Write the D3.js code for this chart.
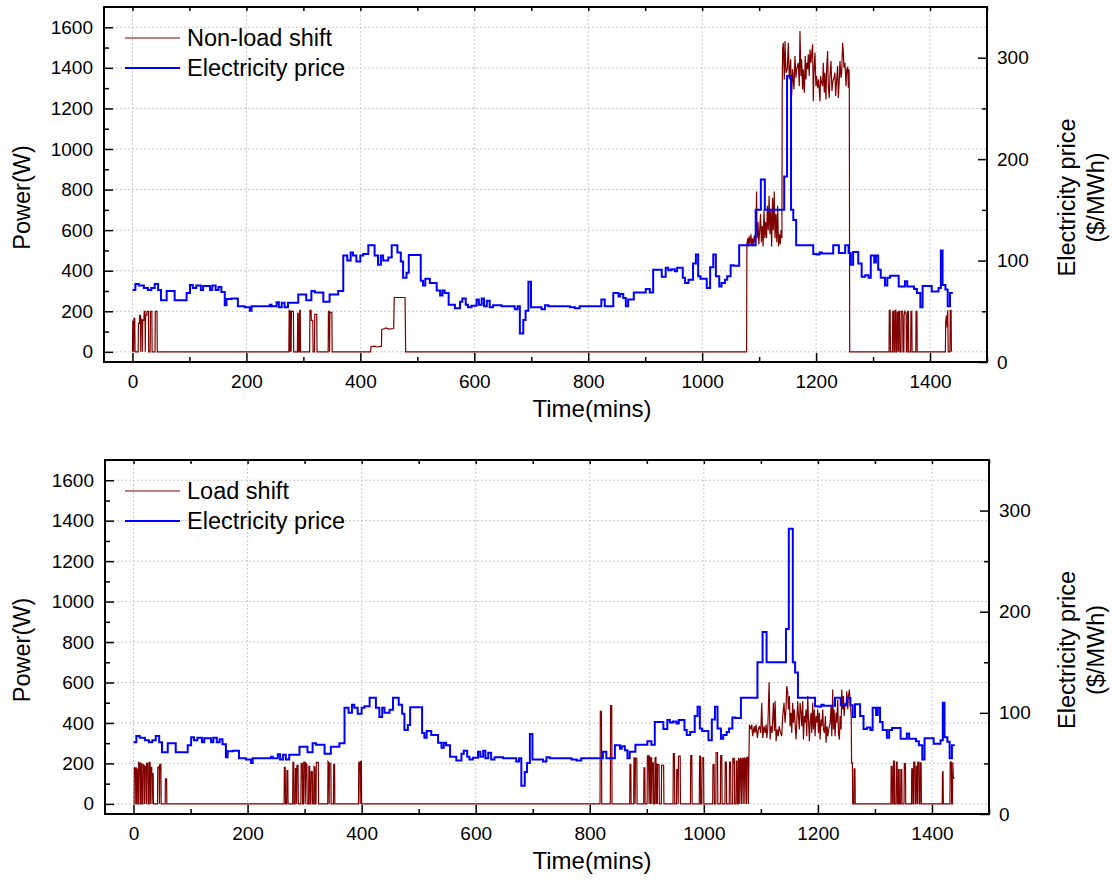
<!DOCTYPE html>
<html>
<head>
<meta charset="utf-8">
<script src="https://cdn.jsdelivr.net/npm/d3@7"></script>
<style>
  body { margin: 0; background: #fff; }
  svg { display: block; font-family: "Liberation Sans", Arial, sans-serif; }
</style>
</head>
<body>
<svg id="chart" width="1113" height="880"></svg>
<script>
const timeTicks = [0, 200, 400, 600, 800, 1000, 1200, 1400];
const timeMinor = [100, 300, 500, 700, 900, 1100, 1300, 1500];
const powerTicks = [0, 200, 400, 600, 800, 1000, 1200, 1400, 1600];
const powerMinor = [100, 300, 500, 700, 900, 1100, 1300, 1500];
const priceTicks = [0, 100, 200, 300];
const priceMinor = [50, 150, 250];

// electricity price, $/MWh, [minute, price] steps
const priceSteps = [
  [0,71],[5,77],[11,75.5],[20,73],[27,71],[33,73],[39,77],[45,71],[50,61],[60,70],[74,61],[95,68],
  [101,76],[106,73],[112,75.5],[120,71],[124,75],[136,71],[140,75.5],[146,71],[151,74],[156,69],
  [162,56],[165,62],[174,62.5],[185,55],[197,54],[206,50.5],[209,55],[226,55],[241,56.5],[244,55],
  [253,59],[257,54],[262,58.5],[267,54],[273,58.5],[291,66.5],[305,61],[314,70],[320,68.5],[335,59.5],
  [346,66.5],[361,70],[370,105],[377,100],[383,108],[387,105],[393,99],[400,105],[405,106.5],[414,115],
  [425,105],[431,96],[436,105],[440,100],[449,103],[455,115],[465,108],[471,99],[475,83],[481,88],
  [485,105.5],[506,80],[510,75.5],[514,82],[522,78],[534,70.5],[540,65.5],[544,70.5],[548,68],
  [555,56.5],[566,53],[575,59.5],[579,62.5],[585,56.5],[589,54],[595,55.5],[604,61.5],[608,56.5],
  [613,62.5],[617,55],[622,60.5],[627,54],[633,56],[648,55],[671,52],[676,55],[680,28],[686,41.5],
  [690,50.5],[695,79],[699.5,54],[718,52],[724,56],[730,55],[768,54],[777,53],[785,55],[823,61.5],
  [829,55],[844,68],[853,64.5],[856,67],[861.5,63],[866,55],[870,61.5],[880,68.5],[901,72],[908,68.5],
  [914,91],[929,84],[936,93],[940.5,90.5],[946,91.5],[952,89.5],[956,93],[966,83],[970,78],[976,81],
  [984,97],[989,106],[993,84.5],[997,82],[1008,73],[1014,93.5],[1019.5,106],[1024,84.5],[1030,74.5],
  [1034,78],[1040,81],[1044,84.5],[1050,95.5],[1055,95],[1065,115],[1094,150],[1103,180],[1110,150],
  [1144,183],[1149,282],[1156,150],[1160,140],[1165,115],[1195,106.5],[1201,106],[1206,108],[1210,107],
  [1230,115],[1240,107.5],[1251,115],[1257,107.5],[1261,96],[1265,108.5],[1274,97],[1280,84],
  [1286,85.5],[1292,83],[1296,105],[1302,98],[1305,105],[1309,91],[1313.5,83],[1321,75.5],[1325,83],
  [1330,85],[1345,74.5],[1356,79.5],[1360,74.5],[1372,72],[1377,68],[1383,54],[1387,75],[1397,75],
  [1403,69.5],[1415,73],[1419,110],[1422,76],[1427,71.5],[1431,55],[1435,68],[1440,68]
];

// power without load shifting, W, [minute, watts]
const nonLoadShift = [
  [0,0],[0.5,150],[1.5,150],[2,0],[2.5,165],[4,165],[4.5,0],[10,0],[10.5,140],[12,140],[12.5,180],
  [14,180],[14.5,0],[15,160],[17,160],[17.5,0],[18,155],[20,155],[20.5,200],[22,200],[22.5,0],[23,180],
  [25,180],[25.5,200],[28,200],[28.5,0],[31,0],[31.5,200],[34,200],[34.5,0],[39.5,0],[40,200],[43,200],
  [43.5,0],
  [274.5,0],[275,205],[276,205],[276.5,0],[277,200],[278,200],[278.5,0],[279,200],[282.5,200],[283,0],
  [289.5,0],[290,190],[291,190],[291.5,0],[293,0],[293.5,205],[294.5,205],[295,0],[311,0],[311.5,205],
  [313.5,205],[314,155],[316.5,155],[317,0],[319.5,0],[320,185],[323.5,185],[324,0],[343.5,0],
  [344,200],[345.5,200],[346,0],[346.5,195],[350,195],[350.5,0],
  [418,0],[418.5,25],[425,28],[430,24],[437,28],[437.5,110],[445,118],[450,112],[458.5,115],
  [459.5,268],[478.5,268],[479.5,0],
  [1078,0],[1078.5,530],[1080,560],[1081,520],[1082.5,570],[1084,530],[1085.5,580],[1087,525],
  [1088.5,560],[1090,520],[1091.5,575],[1093,540],[1094.5,600],[1095.5,790],[1096.5,560],[1098,640],
  [1099.5,530],[1101,600],[1102.5,680],[1104,540],[1105.5,620],[1107,520],[1108.5,700],[1110,560],
  [1111.5,640],[1113,560],[1114.5,720],[1116,600],[1117.5,770],[1119,580],[1120.5,700],[1122,520],
  [1123.5,760],[1125,600],[1126.5,790],[1128,560],[1129.5,680],[1131,540],[1132.5,720],[1134,520],
  [1135.5,580],[1137,530],[1138.5,600],[1140,560],
  [1140.5,1300],[1141.3,1491],[1142.4,1524],[1144.2,1343],[1145.4,1532],[1147.1,1376],[1149.4,1393],
  [1151.2,1524],[1152.9,1343],[1155.3,1442],[1157,1261],[1158.8,1393],[1161.1,1294],[1162.9,1458],
  [1164.6,1351],[1165.8,1393],[1168.7,1425],[1170.5,1310],[1171.7,1582],[1173.4,1360],[1174.6,1442],
  [1176.3,1294],[1177.5,1393],[1179.3,1277],[1181,1458],[1182.2,1343],[1183.4,1425],[1185.1,1393],
  [1186.3,1467],[1188,1360],[1189.2,1491],[1191,1425],[1192.1,1467],[1193.9,1516],[1195.1,1236],
  [1196.2,1376],[1198,1475],[1199.7,1310],[1200.9,1360],[1202.7,1302],[1204.4,1343],[1206.8,1236],
  [1207.9,1360],[1209.7,1327],[1211.4,1310],[1212.6,1425],[1214.4,1277],[1215.5,1376],[1217.3,1244],
  [1218.5,1393],[1220.2,1483],[1221.4,1310],[1223.2,1252],[1224.3,1360],[1226.1,1434],[1227.9,1286],
  [1229,1327],[1231.4,1351],[1233.1,1376],[1234.3,1261],[1236.1,1343],[1237.8,1409],[1239,1252],
  [1240.8,1343],[1241.9,1434],[1243.7,1351],[1244.9,1376],[1246.6,1524],[1247.8,1475],[1249,1401],
  [1250.7,1425],[1252.5,1310],[1253.7,1393],[1255.4,1401],[1256.6,1302],[1257.8,1393],[1258.3,1300],
  [1259,0],
  [1328,0],[1328.5,205],[1330,205],[1330.5,0],[1334,0],[1334.5,200],[1336,200],[1336.5,0],[1338,0],
  [1338.5,205],[1340,205],[1340.5,0],[1342,0],[1342.5,195],[1344,195],[1344.5,0],[1345,200],
  [1346.5,200],[1347,0],[1349,0],[1349.5,200],[1352,200],[1352.5,0],[1354,0],[1354.5,180],[1356,200],
  [1358,190],[1358.5,0],[1360,0],[1360.5,200],[1362,200],[1362.5,0],[1366,0],[1366.5,200],[1368,200],
  [1368.5,0],[1375,0],[1375.5,200],[1377,200],[1377.5,0],[1427,0],[1427.5,150],[1429,180],[1430,120],
  [1431,205],[1432,0],[1435,0],[1435.5,205],[1437,205],[1437.5,0]
];

// power with load shifting, W, [minute, watts]
const loadShift = [
  [0,0],[1,0],[1.5,180],[3.5,178],[4,0],[5,0],[5.5,175],[7,170],[7.5,0],[8.5,0],[9,205],[11,200],
  [11.5,0],[12.5,0],[13,200],[14.5,195],[15,0],[16.5,0],[17,195],[19,190],[19.5,0],[20,185],[22,185],
  [22.5,0],[23,200],[25,200],[25.5,0],[27,0],[27.5,205],[29,205],[29.5,0],[30,180],[32,180],[32.5,0],
  [33,150],[34.5,150],[35,0],[42,0],[42.5,180],[45,185],[45.5,0],[46,195],[48,195],[48.5,0],[55.5,0],
  [56,124],[58,124],[58.5,0],
  [264,0],[264.5,180],[266,180],[266.5,0],[268.5,0],[269,165],[270.5,165],[271,0],[279,0],[279.5,205],
  [281,205],[281.5,0],[283.5,0],[284,175],[285.5,175],[286,0],[286.5,190],[288.5,190],[289,0],
  [293.5,0],[294,200],[296,200],[296.5,0],[298,0],[298.5,206],[300.5,206],[301,0],[302.5,200],
  [304,195],[304.5,0],[307,0],[307.5,185],[309,185],[309.5,0],[311,0],[311.5,160],[313.5,160],[314,0],
  [316,0],[316.5,185],[318,180],[318.5,0],[320,0],[320.5,205],[324,205],[324.5,0],[340.5,0],[341,210],
  [342.5,205],[343,0],[343.5,200],[346,200],[346.5,0],[350.5,0],[351,195],[352.5,195],[353,0],
  [394.5,0],[395,205],[397,205],[397.5,0],[398,210],[399.5,210],[400,0],
  [818,0],[818.5,458],[820.5,458],[821,0],[836,0],[836.5,486],[838.5,486],[839,0],[870,0],[870.5,194],
  [872,194],[872.5,0],[877,0],[877.5,228],[879,228],[879.5,0],[880,225],[882.5,225],[883,0],[894.5,0],
  [895,178],[896.5,178],[897,0],[900.5,0],[901,236],[902,239],[903,228],[904,0],[904.5,239],[906,220],
  [906.5,0],[907,228],[908.5,228],[909,0],[909.5,203],[911.5,203],[912,0],[914,0],[914.5,228],
  [916,230],[916.5,0],[917,200],[918,194],[918.5,0],[919,194],[921.5,194],[922,0],[925.5,0],[926,190],
  [929.5,190],[930,0],[946,0],[946.5,248],[948.5,248],[949,0],[952,0],[952.5,170],[954.5,170],[955,0],
  [955.5,236],[958.5,236],[959,0],[976.5,0],[977,239],[979,239],[979.5,0],[992,0],[992.5,236],
  [994,236],[994.5,0],[996.5,0],[997,228],[999.5,228],[1000,0],[1015.5,0],[1016,194],[1018,194],
  [1018.5,0],[1021,0],[1021.5,254],[1024,254],[1024.5,0],[1029,0],[1029.5,239],[1031.5,239],[1032,0],
  [1037,0],[1037.5,206],[1039.5,206],[1040,0],[1044.5,0],[1045,206],[1047,206],[1047.5,0],[1050.5,0],
  [1051,228],[1052.5,200],[1053.5,228],[1054,0],[1056.5,0],[1057,211],[1058.5,211],[1059,0],
  [1060.5,0],[1061,228],[1062.5,200],[1063,0],[1063.5,220],[1065,228],[1066,0],[1066.5,210],
  [1068,228],[1069,0],[1069.5,215],[1071,230],[1072,0],[1072.5,219],[1074,225],[1075,0],[1075.5,230],
  [1077.5,230],[1078,0],
  [1079.9,392],[1082.2,368],[1084,392],[1085.7,335],[1088.1,384],[1089.8,351],[1091.6,392],
  [1093.9,326],[1095.7,368],[1097.5,384],[1099.8,351],[1101.5,500],[1103.3,326],[1105.6,384],
  [1107.4,351],[1109.2,392],[1110.3,326],[1112.1,371],[1114.4,601],[1116.2,318],[1117.9,384],
  [1119.7,351],[1122,500],[1123.8,360],[1125,508],[1126.7,310],[1128.5,368],[1130.3,335],[1132,384],
  [1133.8,360],[1136.5,335],[1138.3,434],[1140.6,500],[1142.4,401],[1144.1,467],[1145.3,582],
  [1147.1,549],[1148.2,467],[1150,533],[1151.2,384],[1152.9,450],[1154.1,351],[1155.8,500],[1157,401],
  [1158.8,467],[1160.5,368],[1161.7,318],[1162.9,401],[1164.6,508],[1165.8,434],[1167.5,368],
  [1168.7,500],[1170.5,450],[1171.6,384],[1173.4,508],[1174.6,318],[1176.3,434],[1177.5,401],
  [1179.2,467],[1180.4,335],[1182.2,533],[1183.3,434],[1185.1,310],[1186.3,401],[1188,450],
  [1189.2,351],[1190.9,500],[1192.1,368],[1193.9,467],[1195,335],[1196.8,434],[1198,401],[1199.7,467],
  [1200.9,351],[1202.6,450],[1203.8,318],[1205.6,417],[1206.7,384],[1208.5,467],[1209.7,368],
  [1211.4,351],[1213.2,434],[1214.3,302],[1216.1,384],[1217.3,335],[1219,368],[1220.2,384],
  [1221.4,401],[1223.1,483],[1224.3,335],[1226,565],[1227.2,368],[1228.4,467],[1230.1,335],
  [1231.9,450],[1233,401],[1234.8,516],[1236,351],[1237.7,318],[1238.9,434],[1240.7,368],[1241.8,565],
  [1243.6,467],[1244.8,533],[1245.9,434],[1247.7,500],[1249.4,483],[1250.6,557],[1252.4,467],
  [1253.5,533],[1255.3,565],[1256.4,500],[1257.6,467],[1258.5,420],[1259,203],[1260.5,203],[1261,0],
  [1263,0],[1263.5,173],[1265,173],[1265.5,0],
  [1328,0],[1328.5,186],[1330,186],[1330.5,0],[1332,0],[1332.5,211],[1334,211],[1334.5,0],[1337,0],
  [1337.5,206],[1339,206],[1339.5,0],[1341,0],[1341.5,170],[1342.5,170],[1343,0],[1345,0],[1345.5,170],
  [1347,170],[1347.5,0],[1351,0],[1351.5,199],[1353.5,199],[1354,0],[1364,0],[1364.5,173],[1366,173],
  [1366.5,0],[1367.5,0],[1368,206],[1370,206],[1370.5,0],[1372,0],[1372.5,186],[1374,186],[1374.5,0],
  [1375,206],[1377,206],[1377.5,0],[1379,0],[1379.5,203],[1381,203],[1381.5,0],[1418,0],[1418.5,158],
  [1419.5,158],[1420,0],[1431.5,0],[1432,206],[1434,206],[1434.5,0],[1436,0],[1436.5,206],
  [1437.5,129],[1440,129]
];

const svg = d3.select('#chart');
const red = '#800000';
const blue = '#0000ff';
const fmt = d3.format('d');

function drawPanel(box, power, label, id) {
  const g = svg.append('g');
  const x = d3.scaleLinear().domain([-50, 1500]).range([box.left, box.right]);
  const yP = d3.scaleLinear().domain([-50, 1700]).range([box.bottom, box.top]);
  const yE = d3.scaleLinear().domain([0, 350]).range([box.bottom, box.top]);

  // grid
  g.append('g').selectAll('line').data(timeTicks).join('line')
    .attr('x1', d => x(d)).attr('x2', d => x(d))
    .attr('y1', box.top).attr('y2', box.bottom)
    .attr('stroke', '#c8c8c8').attr('stroke-dasharray', '2,2');
  g.append('g').selectAll('line').data(powerTicks).join('line')
    .attr('y1', d => yP(d)).attr('y2', d => yP(d))
    .attr('x1', box.left).attr('x2', box.right)
    .attr('stroke', '#c8c8c8').attr('stroke-dasharray', '2,2');

  g.append('clipPath').attr('id', 'clip' + id)
    .append('rect').attr('x', box.left).attr('y', box.top)
    .attr('width', box.right - box.left).attr('height', box.bottom - box.top);

  const area = g.append('g').attr('clip-path', `url(#clip${id})`);
  area.append('path').datum(power)
    .attr('fill', 'none').attr('stroke', red).attr('stroke-width', 1.2)
    .attr('d', d3.line().x(d => x(d[0])).y(d => yP(d[1])));
  area.append('path').datum(priceSteps)
    .attr('fill', 'none').attr('stroke', blue).attr('stroke-width', 2)
    .attr('d', d3.line().curve(d3.curveStepAfter).x(d => x(d[0])).y(d => yE(d[1])));

  // axes
  const bx = g.append('g').attr('transform', `translate(0,${box.bottom})`)
    .call(d3.axisBottom(x).tickValues(timeTicks).tickFormat(fmt).tickSize(-9).tickSizeOuter(0).tickPadding(13));
  g.append('g').attr('transform', `translate(0,${box.bottom})`)
    .call(d3.axisBottom(x).tickValues(timeMinor).tickSize(-5).tickSizeOuter(0).tickFormat(''));
  g.append('g').attr('transform', `translate(0,${box.top})`)
    .call(d3.axisTop(x).tickValues(timeTicks.concat(timeMinor)).tickSize(-4).tickSizeOuter(0).tickFormat(''));
  const lx = g.append('g').attr('transform', `translate(${box.left},0)`)
    .call(d3.axisLeft(yP).tickValues(powerTicks).tickFormat(fmt).tickSize(-9).tickSizeOuter(0).tickPadding(11));
  g.append('g').attr('transform', `translate(${box.left},0)`)
    .call(d3.axisLeft(yP).tickValues(powerMinor).tickSize(-5).tickSizeOuter(0).tickFormat(''));
  const rx = g.append('g').attr('transform', `translate(${box.right},0)`)
    .call(d3.axisRight(yE).tickValues(priceTicks).tickFormat(fmt).tickSize(-9).tickSizeOuter(0).tickPadding(10));
  g.append('g').attr('transform', `translate(${box.right},0)`)
    .call(d3.axisRight(yE).tickValues(priceMinor).tickSize(-5).tickSizeOuter(0).tickFormat(''));

  g.selectAll('.domain').remove();
  g.selectAll('.tick line').attr('stroke', '#000').attr('stroke-width', 1.5);
  [bx, lx, rx].forEach(a => a.selectAll('text')
    .attr('font-size', '19px').attr('font-family', '"Liberation Sans", Arial, sans-serif').attr('fill', '#000'));

  g.append('rect').attr('x', box.left).attr('y', box.top)
    .attr('width', box.right - box.left).attr('height', box.bottom - box.top)
    .attr('fill', 'none').attr('stroke', '#000').attr('stroke-width', 2);

  // titles
  const midY = (box.top + box.bottom) / 2 + 13;
  g.append('text').attr('x', 592).attr('y', box.bottom + 55)
    .attr('text-anchor', 'middle').attr('font-size', '24px').text('Time(mins)');
  g.append('text').attr('transform', `translate(30,${midY}) rotate(-90)`)
    .attr('text-anchor', 'middle').attr('font-size', '23.5px').text('Power(W)');
  g.append('text').attr('transform', `translate(1075,${midY}) rotate(-90)`)
    .attr('text-anchor', 'middle').attr('font-size', '23.5px').text('Electricity price');
  g.append('text').attr('transform', `translate(1104,${midY}) rotate(-90)`)
    .attr('text-anchor', 'middle').attr('font-size', '23.5px').text('($/MWh)');

  // legend
  const ly = box.top + 31;
  const items = [[label, red, 1.2], ['Electricity price', blue, 2]];
  items.forEach((it, i) => {
    const yy = ly + i * 30;
    g.append('line').attr('x1', 125).attr('x2', 180).attr('y1', yy).attr('y2', yy)
      .attr('stroke', it[1]).attr('stroke-width', it[2]);
    g.append('text').attr('x', 187).attr('y', yy).attr('dy', '0.35em')
      .attr('font-size', '23.5px').text(it[0]);
  });
}

drawPanel({ left: 104, right: 987, top: 7, bottom: 362 }, nonLoadShift, 'Non-load shift', 0);
drawPanel({ left: 105, right: 989, top: 460, bottom: 814 }, loadShift, 'Load shift', 1);
</script>
</body>
</html>
